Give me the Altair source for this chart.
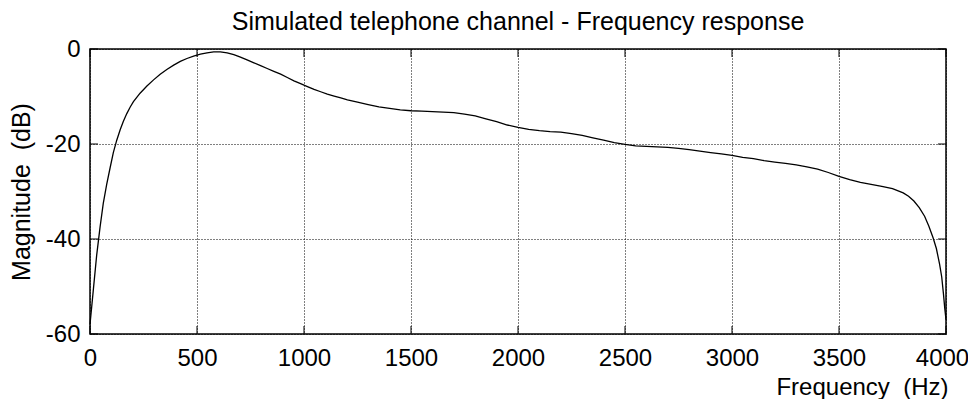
import altair as alt
import pandas as pd

# Frequency response samples
freq = [0, 16, 31, 47, 62, 78, 94, 109, 125, 141, 156, 172, 188, 203, 234, 266, 297,
        328, 359, 391, 422, 453, 484, 516, 547, 578, 609, 641, 672, 703, 734, 766,
        797, 828, 859, 891, 922, 953, 984, 1016, 1047, 1078, 1109, 1141, 1172, 1203,
        1250, 1300, 1350, 1400, 1450, 1500, 1550, 1600, 1650, 1700, 1750, 1800, 1850,
        1900, 1950, 2000, 2050, 2100, 2150, 2200, 2250, 2300, 2350, 2400, 2450, 2500,
        2550, 2600, 2650, 2700, 2750, 2800, 2850, 2900, 2950, 3000, 3050, 3100, 3150,
        3200, 3250, 3300, 3350, 3400, 3450, 3500, 3550, 3600, 3650, 3700, 3750, 3800,
        3825, 3850, 3875, 3900, 3920, 3940, 3955, 3970, 3980, 3988, 3994, 4000]
mag = [-58.0, -50.5, -43.5, -37.5, -32.5, -28.5, -25.0, -21.8, -19.2, -17.0, -15.2,
       -13.6, -12.2, -11.1, -9.3, -7.8, -6.5, -5.3, -4.3, -3.4, -2.6, -2.0, -1.5, -1.1,
       -0.8, -0.6, -0.6, -0.8, -1.2, -1.7, -2.3, -2.9, -3.5, -4.1, -4.7, -5.3, -6.0,
       -6.7, -7.3, -7.9, -8.5, -9.0, -9.5, -9.9, -10.3, -10.7, -11.2, -11.7, -12.2,
       -12.5, -12.8, -13.0, -13.1, -13.2, -13.3, -13.4, -13.7, -14.1, -14.7, -15.3,
       -16.0, -16.5, -16.9, -17.2, -17.4, -17.5, -17.8, -18.2, -18.7, -19.2, -19.7,
       -20.1, -20.4, -20.5, -20.6, -20.7, -20.9, -21.2, -21.5, -21.8, -22.1, -22.4,
       -22.8, -23.1, -23.5, -23.8, -24.1, -24.4, -24.8, -25.3, -26.0, -26.8, -27.5,
       -28.1, -28.5, -28.9, -29.4, -30.3, -31.0, -32.0, -33.4, -35.2, -37.3, -39.8,
       -42.0, -45.3, -48.0, -51.5, -54.5, -57.0]

x_ticks = [0, 500, 1000, 1500, 2000, 2500, 3000, 3500, 4000]
y_ticks = [-60, -40, -20, 0]

title_text = "Simulated telephone channel - Frequency response"
x_title = "Frequency\u00a0\u00a0(Hz)"
y_title = "Magnitude\u00a0\u00a0(dB)"

FONT = "Liberation Sans"
W, H = 856, 285
TL = 8

df = pd.DataFrame({"f": freq, "m": mag})
xt = pd.DataFrame({"f": x_ticks})
yt = pd.DataFrame({"m": y_ticks})

xs = alt.Scale(domain=[0, 4000], nice=False, zero=False)
ys = alt.Scale(domain=[-60, 0], nice=False, zero=False)

x_axis = alt.Axis(
    values=x_ticks, grid=True, gridColor="black", gridDash=[1, 2], gridWidth=1,
    gridOpacity=1, domain=False, ticks=False, labelFontSize=24, labelFont=FONT,
    labelColor="black", labelPadding=12, labelFlush=False, labelOverlap=False,
    labelOffset={"condition": {"test": "datum.value == 4000", "value": -4}, "value": 0},
    labelExpr="'' + datum.value", title=x_title, titleFont=FONT, titleFontSize=24,
    titleFontWeight="normal", titleColor="black", titleAlign="right",
    titleAnchor="end", titleX=W + 2, titleY=60, titleBaseline="alphabetic")
y_axis = alt.Axis(
    values=y_ticks, grid=True, gridColor="black", gridDash=[1, 2], gridWidth=1,
    gridOpacity=1, domain=False, ticks=False, labelFontSize=24, labelFont=FONT,
    labelColor="black", labelPadding=10, labelFlush=False, labelOverlap=False,
    labelExpr="'' + datum.value", title=y_title, titleFont=FONT, titleFontSize=25,
    titleFontWeight="normal", titleColor="black", titleX=-69, titleY=H / 2,
    titleAngle=-90, titleAlign="center", titleBaseline="middle")

X = alt.X("f:Q", scale=xs, axis=x_axis)
Y = alt.Y("m:Q", scale=ys, axis=y_axis)

line = alt.Chart(df).mark_line(color="black", strokeWidth=1.3).encode(x=X, y=Y)

tick_x_bottom = alt.Chart(xt).mark_rule(color="black", strokeWidth=1).encode(
    x=X, y=alt.value(H), y2=alt.value(H - TL))
tick_x_top = alt.Chart(xt).mark_rule(color="black", strokeWidth=1).encode(
    x=X, y=alt.value(0), y2=alt.value(TL))
tick_y_left = alt.Chart(yt).mark_rule(color="black", strokeWidth=1).encode(
    y=Y, x=alt.value(0), x2=alt.value(TL))
tick_y_right = alt.Chart(yt).mark_rule(color="black", strokeWidth=1).encode(
    y=Y, x=alt.value(W), x2=alt.value(W - TL))

chart = alt.layer(line, tick_x_bottom, tick_x_top, tick_y_left, tick_y_right).properties(
    width=W, height=H,
    title=alt.TitleParams(title_text, font=FONT, fontSize=25, fontWeight="normal",
                          color="black", anchor="middle", offset=2),
    autosize=alt.AutoSizeParams(type="none"),
    padding={"left": 82, "top": 41, "right": 22, "bottom": 65},
    background="white",
).configure_view(stroke="black", strokeWidth=1.5)

chart.save("out.html", embed_options={"renderer": "svg", "actions": False})
